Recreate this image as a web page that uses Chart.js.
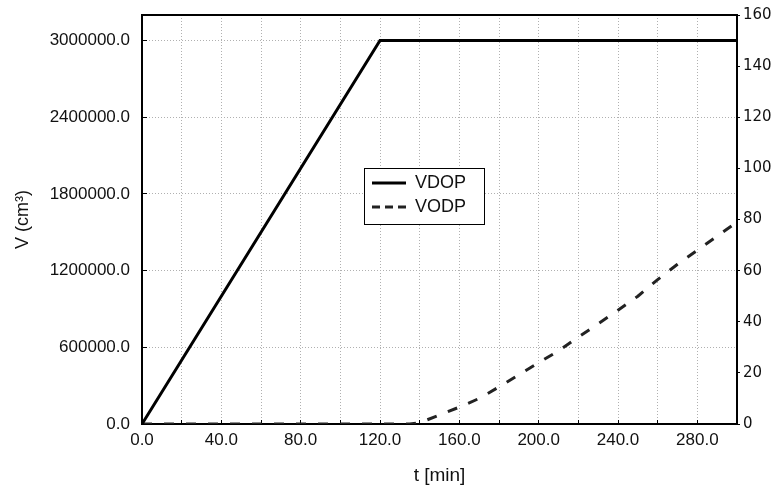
<!DOCTYPE html>
<html>
<head>
<meta charset="utf-8">
<script src="https://cdn.jsdelivr.net/npm/chart.js@4"></script>
<style>
  body { margin: 0; background: #fff; }
</style>
</head>
<body>
<canvas id="myChart" width="774" height="488"></canvas>
<script>
// VDOP - volume (cm3), left axis
var vdopTime = [0, 120, 300];
var vdopVol = [0, 3000000, 3000000];

// VODP - right axis
var vodpTime = [0, 135, 140, 150, 160, 170, 180, 190, 200, 210, 220, 230, 240, 250, 260, 270, 280, 290, 300];
var vodpVal = [0, 0, 0.5, 3.5, 6.6, 10, 14.5, 19.3, 24, 28.6, 34, 39.2, 44.5, 50, 56.5, 62.5, 68, 73.5, 79];

var seriesNames = ["VDOP", "VODP"];

// left axis tick values
var volTicks = [0, 600000, 1200000, 1800000, 2400000, 3000000];

function toPoints(xs, ys) {
    var pts = [];
    for (var i = 0; i < xs.length; i++) {
        pts.push({ x: xs[i], y: ys[i] });
    }
    return pts;
}

Chart.defaults.font.family = "'Liberation Sans', Arial, sans-serif";
Chart.defaults.color = "#111";

var gridColor = "#b0b0b0";

// legend box + top frame
var framePlugin = {
    id: "frame",
    afterLayout: function(chart) {
        var lg = chart.legend;
        lg.left = 366; lg.top = 168;
        lg.right = lg.left + 116; lg.bottom = lg.top + 56;
    },
    afterDatasetsDraw: function(chart) {
        var ctx = chart.ctx;
        ctx.save();
        ctx.fillStyle = "#fff";
        ctx.fillRect(364, 168, 120, 56);
        ctx.restore();
        chart.legend.draw();
        ctx.save();
        ctx.strokeStyle = "#000";
        ctx.lineWidth = 1;
        ctx.setLineDash([]);
        ctx.strokeRect(364.5, 168.5, 120, 56);
        var a = chart.chartArea;
        ctx.lineWidth = 2;
        ctx.beginPath();
        ctx.moveTo(a.left, a.top);
        ctx.lineTo(a.right, a.top);
        ctx.stroke();
        ctx.restore();
    }
};

function pinVertical(width) {
    return function(s) {
        s.width = width;
        s.paddingTop = 0;
        s.paddingBottom = 0;
    };
}

new Chart(document.getElementById("myChart"), {
    type: "line",
    data: {
        datasets: [{
            label: seriesNames[0],
            data: toPoints(vdopTime, vdopVol),
            yAxisID: "y",
            borderColor: "#000",
            backgroundColor: "#000",
            borderWidth: 3,
            pointRadius: 0,
            fill: false
        }, {
            label: seriesNames[1],
            data: toPoints(vodpTime, vodpVal),
            yAxisID: "y2",
            borderColor: "#222",
            backgroundColor: "#222",
            borderWidth: 3,
            borderDash: [10, 12],
            pointRadius: 0,
            fill: false
        }]
    },
    options: {
        responsive: false,
        animation: false,
        devicePixelRatio: 1,
        layout: { padding: { top: 15, left: 0, right: 0, bottom: 0 } },
        plugins: {
            tooltip: { enabled: false },
            legend: {
                position: "chartArea",
                align: "start",
                labels: {
                    usePointStyle: true,
                    pointStyleWidth: 34,
                    boxHeight: 18,
                    padding: 6,
                    color: "#111",
                    font: { size: 18 },
                    generateLabels: function(chart) {
                        var items = Chart.defaults.plugins.legend.labels.generateLabels(chart);
                        items.forEach(function(it) { it.pointStyle = "line"; it.lineWidth = 3; });
                        items[1].lineDash = [8, 5];
                        return items;
                    }
                }
            }
        },
        scales: {
            x: {
                type: "linear",
                min: 0,
                max: 300,
                afterFit: function(s) { s.height = 64; },
                ticks: {
                    stepSize: 20,
                    autoSkip: false,
                    maxRotation: 0,
                    padding: 10,
                    font: { size: 17 },
                    callback: function(v) { return v % 40 === 0 ? v.toFixed(1) : ""; }
                },
                grid: {
                    color: gridColor,
                    tickLength: -4,
                    tickColor: "#000",
                    tickBorderDash: []
                },
                border: { color: "#000", width: 2, dash: [1, 2] },
                title: {
                    display: true,
                    text: "t [min]",
                    font: { size: 19 },
                    padding: { top: 0, bottom: 1 }
                }
            },
            y: {
                type: "linear",
                position: "left",
                min: 0,
                max: 3200000,
                afterFit: pinVertical(142),
                afterBuildTicks: function(s) {
                    s.ticks = volTicks.map(function(v) { return { value: v }; });
                },
                ticks: {
                    padding: 17,
                    font: { size: 17 },
                    callback: function(v) { return v.toFixed(1); }
                },
                grid: {
                    color: gridColor,
                    tickLength: -5,
                    tickColor: "#000",
                    tickBorderDash: []
                },
                border: { color: "#000", width: 2, dash: [1, 2] },
                title: {
                    display: true,
                    text: "V (cm³)",
                    font: { size: 18 },
                    padding: { top: 12, bottom: 0 }
                }
            },
            y2: {
                type: "linear",
                position: "right",
                min: 0,
                max: 160,
                afterFit: pinVertical(37),
                ticks: {
                    stepSize: 20,
                    padding: 3,
                    font: { family: "'DejaVu Sans', Verdana, sans-serif", size: 15 },
                    callback: function(v) { return v; }
                },
                grid: {
                    drawOnChartArea: false,
                    tickLength: 3,
                    tickColor: "#000"
                },
                border: { color: "#000", width: 2 }
            }
        }
    },
    plugins: [framePlugin]
});
</script>
</body>
</html>
